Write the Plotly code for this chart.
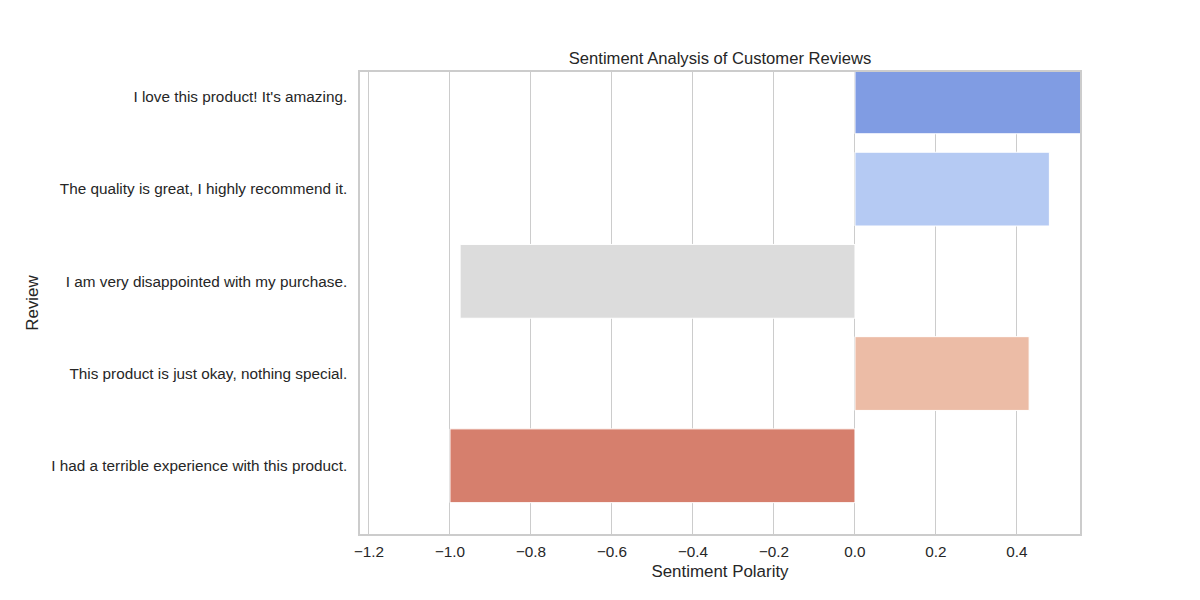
import plotly.graph_objects as go

reviews = [
    "I love this product! It's amazing.",
    "The quality is great, I highly recommend it.",
    "I am very disappointed with my purchase.",
    "This product is just okay, nothing special.",
    "I had a terrible experience with this product.",
]
polarity = [0.625, 0.48, -0.975, 0.43, -1.0]
colors = ["#809ce3", "#b5caf3", "#dcdcdc", "#ecbca6", "#d67f6d"]
x_ticks = [-1.2, -1.0, -0.8, -0.6, -0.4, -0.2, 0.0, 0.2, 0.4]
x_ticktext = ["\u22121.2", "\u22121.0", "\u22120.8", "\u22120.6", "\u22120.4", "\u22120.2", "0.0", "0.2", "0.4"]

fig = go.Figure(
    go.Bar(
        x=polarity,
        y=reviews,
        orientation="h",
        width=0.8,
        marker=dict(color=colors, line=dict(color="white", width=1)),
        showlegend=False,
    )
)

font_family = "Liberation Sans, Arial, sans-serif"
fig.update_layout(
    width=1200,
    height=600,
    margin=dict(l=360, r=120, t=72, b=66),
    paper_bgcolor="white",
    plot_bgcolor="white",
    font=dict(family=font_family, color="#262626", size=15.3),
    title=dict(
        text="Sentiment Analysis of Customer Reviews",
        x=0.6, xanchor="center", y=1 - 58 / 600, yanchor="middle",
        font=dict(size=16.6, color="#262626"),
    ),
    bargap=0.2,
)
fig.update_xaxes(
    range=[-1.2222, 0.5556],
    tickvals=x_ticks,
    ticktext=x_ticktext,
    showgrid=True,
    gridcolor="#cccccc",
    gridwidth=1.2,
    zeroline=False,
    showline=True,
    linecolor="#cccccc",
    linewidth=1.5,
    mirror=True,
    ticks="outside",
    ticklen=3,
    tickcolor="rgba(0,0,0,0)",
    tickfont=dict(size=15.3),
    title=dict(text="Sentiment Polarity", font=dict(size=16.9), standoff=6),
)
fig.update_yaxes(
    categoryorder="array",
    categoryarray=reviews,
    range=[4.74, -0.27],
    showgrid=False,
    zeroline=False,
    showline=True,
    linecolor="#cccccc",
    linewidth=1.5,
    mirror=True,
    ticks="outside",
    ticklen=8,
    tickcolor="rgba(0,0,0,0)",
    tickfont=dict(size=15.3),
    title=dict(text="Review", font=dict(size=16.9), standoff=8),
)

fig.write_html("out.html")
